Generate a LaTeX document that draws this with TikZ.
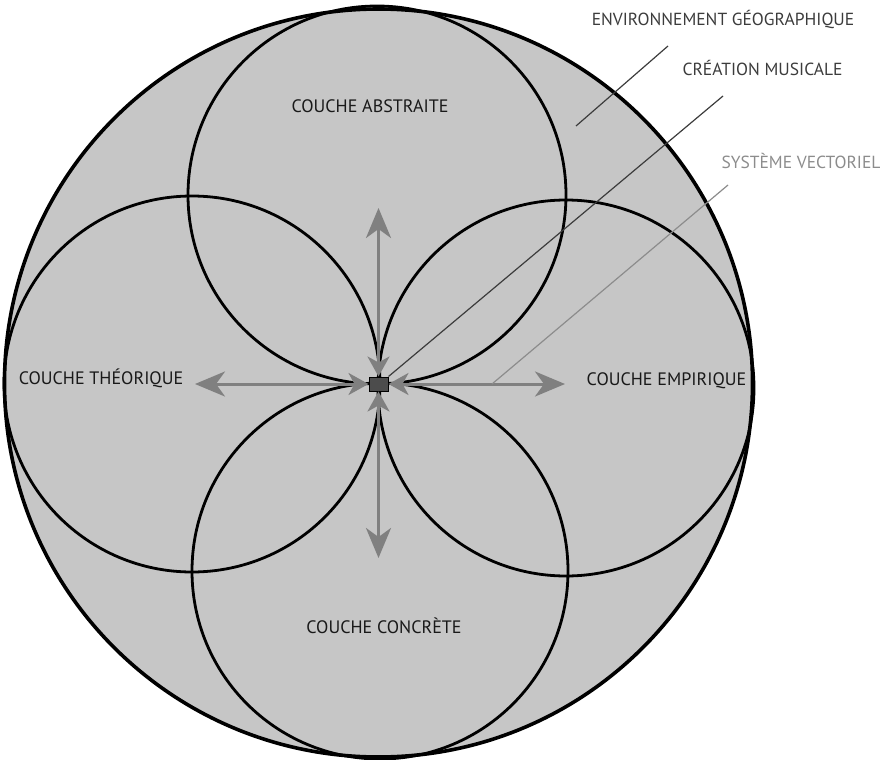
\documentclass[tikz,border=0pt]{standalone}
\usepackage{fontspec}
\setmainfont{PT Sans}
\usetikzlibrary{arrows.meta, positioning}
\definecolor{field}{RGB}{198, 198, 198}
\definecolor{vector}{RGB}{128, 128, 128}
\definecolor{legend}{RGB}{60, 60, 60}
\definecolor{legendlight}{RGB}{140, 140, 140}

\begin{document}
\begin{tikzpicture}[x=1pt, y=-1pt,
    layer/.style={draw=black, line width=2.8pt},
    label/.style={anchor=base, inner sep=0pt, font=\fontsize{18}{20}\selectfont, text=black!90},
    tag/.style={anchor=base, inner sep=0pt, font=\fontsize{17.5}{20}\selectfont},
    vec/.style={draw=vector, line width=3pt,
                {Stealth[length=20pt, width=22pt, inset=6pt]}-{Stealth[length=30pt, width=25pt, inset=9pt]}},
    leader/.style={line width=1.2pt}]
    \useasboundingbox (0,0) rectangle (886,760);

    % Environment
    \draw[fill=field, line width=3.6pt] (378.5,383) circle[radius=374];

    % Layers
    \draw[layer] (377,195) circle[radius=189];
    \draw[layer] (192,384) circle[radius=188];
    \draw[layer] (566,388) circle[radius=188];
    \draw[layer] (380,571) circle[radius=188];

    \node[label] (abstr) at (370,112) {COUCHE ABSTRAITE};
    \node[label] (theor) at (101,384) {COUCHE THÉORIQUE};
    \node[label] (empir) at (666.5,385) {COUCHE EMPIRIQUE};
    \node[label] (concr) at (384,633) {COUCHE CONCRÈTE};

    % Hub and vectors
    \node[draw=black, fill=black!70, line width=1pt, minimum width=19pt, minimum height=14pt, inner sep=0pt] (hub) at (378.5,384) {};
    \coordinate (up) at (378.5,208);
    \coordinate (down) at (378.5,558);
    \coordinate (left) at (195,384);
    \coordinate (right) at (565,384);
    \draw[vec] (hub.north) -- (up);
    \draw[vec] (hub.south) -- (down);
    \draw[vec] (hub.west) -- (left);
    \draw[vec] (hub.east) -- (right);

    % Legend
    \node[tag, text=legend] (env) at (723,26) {ENVIRONNEMENT GÉOGRAPHIQUE};
    \node[tag, text=legend] (crea) at (762.5,75) {CRÉATION MUSICALE};
    \node[tag, text=legendlight] (syst) at (801,168) {SYSTÈME VECTORIEL};
    \coordinate (envend) at (668,46);
    \coordinate (envpt) at (576,126);
    \coordinate (creaend) at (723,96);
    \coordinate (systend) at (728,185);
    \coordinate (systpt) at (492,384);
    \draw[leader, draw=legend] (envend) -- (envpt);
    \draw[leader, draw=legend] (creaend) -- (hub.north east);
    \draw[leader, draw=legendlight] (systend) -- (systpt);
\end{tikzpicture}
\end{document}
